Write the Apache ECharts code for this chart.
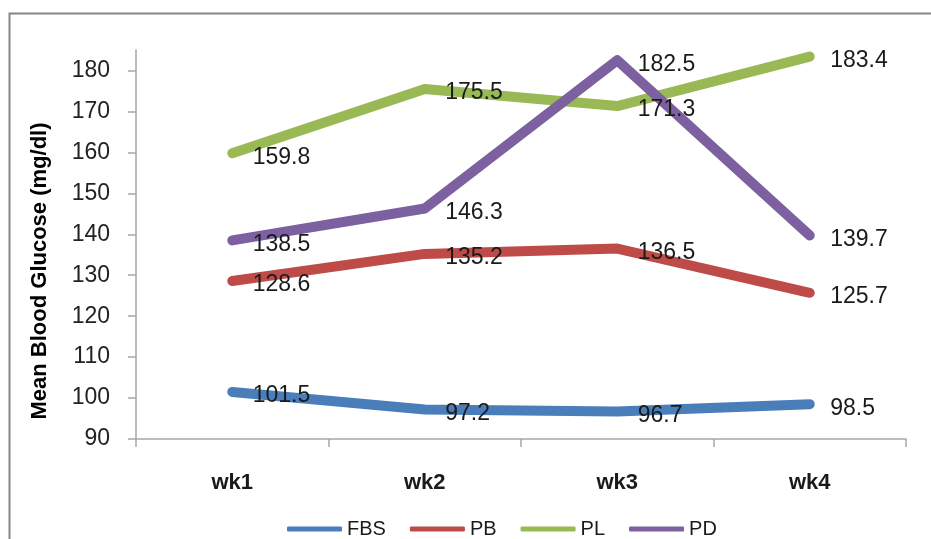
<!DOCTYPE html>
<html>
<head>
<meta charset="utf-8">
<script src="https://cdn.jsdelivr.net/npm/echarts@6/dist/echarts.min.js"></script>
<style>
  html, body { margin: 0; padding: 0; background: #fff; }
  #chart { width: 931px; height: 539px; }
</style>
</head>
<body>
<div id="chart"></div>
<script>
// Weekly mean blood glucose per group
const weeks = ['wk1', 'wk2', 'wk3', 'wk4'];
const fbs = [101.5, 97.2, 96.7, 98.5];
const pb  = [128.6, 135.2, 136.5, 125.7];
const pl  = [159.8, 175.5, 171.3, 183.4];
const pd  = [138.5, 146.3, 182.5, 139.7];
const yTicks = [90, 100, 110, 120, 130, 140, 150, 160, 170, 180];
const yTitle = 'Mean Blood Glucose (mg/dl)';

const FONT = '"Liberation Sans", Arial, sans-serif';
const AXIS_GREY = '#a6a6a6';

function makeSeries(name, data, color) {
  return {
    name: name,
    type: 'line',
    data: data,
    symbol: 'circle',
    symbolSize: 1,
    showSymbol: true,
    color: color,
    itemStyle: { color: color },
    lineStyle: { width: 10, color: color, cap: 'round', join: 'round' },
    label: {
      show: true,
      position: 'right',
      distance: 20,
      offset: [0, 4],
      fontFamily: FONT,
      fontSize: 23,
      color: '#1a1a1a'
    },
    emphasis: { disabled: true }
  };
}

const chart = echarts.init(document.getElementById('chart'), null, { renderer: 'canvas' });
chart.setOption({
  backgroundColor: '#fff',
  animation: false,
  graphic: [{
    type: 'rect',
    shape: { x: 9.5, y: 13.5, width: 1000, height: 600 },
    style: { fill: 'none', stroke: '#868686', lineWidth: 2 },
    silent: true
  }, {
    type: 'text',
    x: 40,
    y: 271,
    rotation: Math.PI / 2,
    style: {
      text: yTitle,
      fontFamily: FONT,
      fontSize: 22,
      fontWeight: 'bold',
      fill: '#000',
      align: 'center',
      verticalAlign: 'middle'
    },
    silent: true
  }],
  grid: { left: 136, right: 25, top: 50, bottom: 100 },
  legend: {
    top: 514,
    left: 282,
    icon: 'roundRect',
    itemWidth: 55,
    itemHeight: 5,
    itemGap: 24,
    textStyle: { fontFamily: FONT, fontSize: 20, color: '#1a1a1a' },
    data: ['FBS', 'PB', 'PL', 'PD']
  },
  xAxis: {
    type: 'category',
    data: weeks,
    boundaryGap: true,
    axisLine: { lineStyle: { color: AXIS_GREY, width: 1.5 } },
    axisTick: { show: true, length: 8, lineStyle: { color: AXIS_GREY, width: 1.5 } },
    axisLabel: { fontFamily: FONT, fontSize: 22, fontWeight: 'bold', color: '#1a1a1a', margin: 33 },
    splitLine: { show: false }
  },
  yAxis: {
    type: 'value',
    min: 90,
    max: 185,
    axisLine: { show: true, lineStyle: { color: AXIS_GREY, width: 1.5 } },
    axisTick: { show: true, length: 8, customValues: yTicks, lineStyle: { color: AXIS_GREY, width: 1.5 } },
    axisLabel: { customValues: yTicks, fontFamily: FONT, fontSize: 23, color: '#222', margin: 26 },
    splitLine: { show: false }
  },
  series: [
    makeSeries('FBS', fbs, '#4a7ebb'),
    makeSeries('PB', pb, '#be4b48'),
    makeSeries('PL', pl, '#98b954'),
    makeSeries('PD', pd, '#7d60a0')
  ]
});
</script>
</body>
</html>
